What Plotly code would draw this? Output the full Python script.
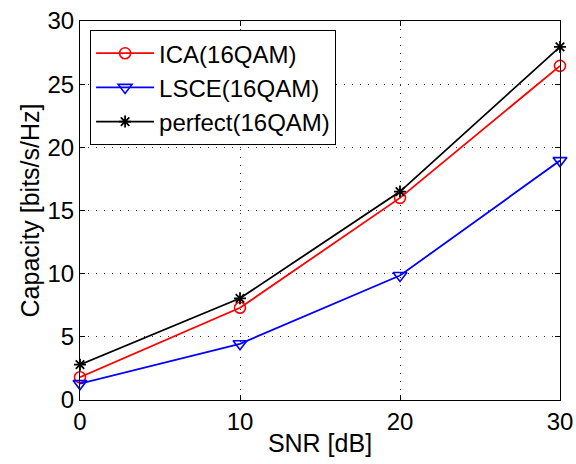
import plotly.graph_objects as go

snr = [0, 10, 20, 30]
ica = [1.8, 7.3, 16.0, 26.45]
lsce = [1.3, 4.45, 9.85, 18.95]
perfect = [2.8, 8.05, 16.5, 27.95]
x_ticks = [0, 10, 20, 30]
y_ticks = [0, 5, 10, 15, 20, 25, 30]

FONT = "Liberation Sans, Arial, sans-serif"
FS_TICK = 24
FS_TEXT = 25
FS_LEG = 24

fig = go.Figure()
fig.add_trace(go.Scatter(
    x=snr, y=ica, name="ICA(16QAM)", mode="lines+markers",
    line=dict(color="#ff0000", width=1.8),
    marker=dict(symbol="circle-open", size=11, color="#ff0000", line=dict(width=1.6)),
    cliponaxis=False))
fig.add_trace(go.Scatter(
    x=snr, y=lsce, name="LSCE(16QAM)", mode="lines+markers",
    line=dict(color="#0000ff", width=1.8),
    marker=dict(symbol="triangle-down-open", size=12, color="#0000ff", line=dict(width=1.6)),
    cliponaxis=False))
fig.add_trace(go.Scatter(
    x=snr, y=perfect, name="perfect(16QAM)", mode="lines+markers",
    line=dict(color="#000000", width=1.8),
    marker=dict(symbol="asterisk-open", size=10, color="#000000", line=dict(width=1.8, color="#000000")),
    cliponaxis=False))

axis_common = dict(
    showline=True, linecolor="black", linewidth=1, mirror="ticks",
    ticks="inside", ticklen=5, tickcolor="black",
    showgrid=True, gridcolor="#333333", gridwidth=1, griddash="1px,7px",
    zeroline=False, tickfont=dict(family=FONT, size=FS_TICK, color="black"),
    automargin=False,
)

fig.update_xaxes(range=[0, 30], tickvals=x_ticks, **axis_common,
                 title=dict(text="SNR [dB]", font=dict(family=FONT, size=FS_TEXT, color="black"), standoff=0))
fig.update_yaxes(range=[0, 30], tickvals=y_ticks, **axis_common,
                 title=dict(text="Capacity [bits/s/Hz]", font=dict(family=FONT, size=FS_TEXT, color="black"), standoff=0))

fig.update_layout(
    width=576, height=464,
    margin=dict(l=80, r=16, t=21, b=64),
    paper_bgcolor="white", plot_bgcolor="white",
    font=dict(family=FONT, size=FS_TEXT, color="black"),
    showlegend=True,
    legend=dict(x=0.021, y=0.976, xanchor="left", yanchor="top",
                bgcolor="white", bordercolor="black", borderwidth=1,
                font=dict(family=FONT, size=FS_LEG, color="black"),
                itemwidth=58),
)

fig.write_html("out.html", config={"displayModeBar": False},
               post_script="document.body.style.margin='0';")
